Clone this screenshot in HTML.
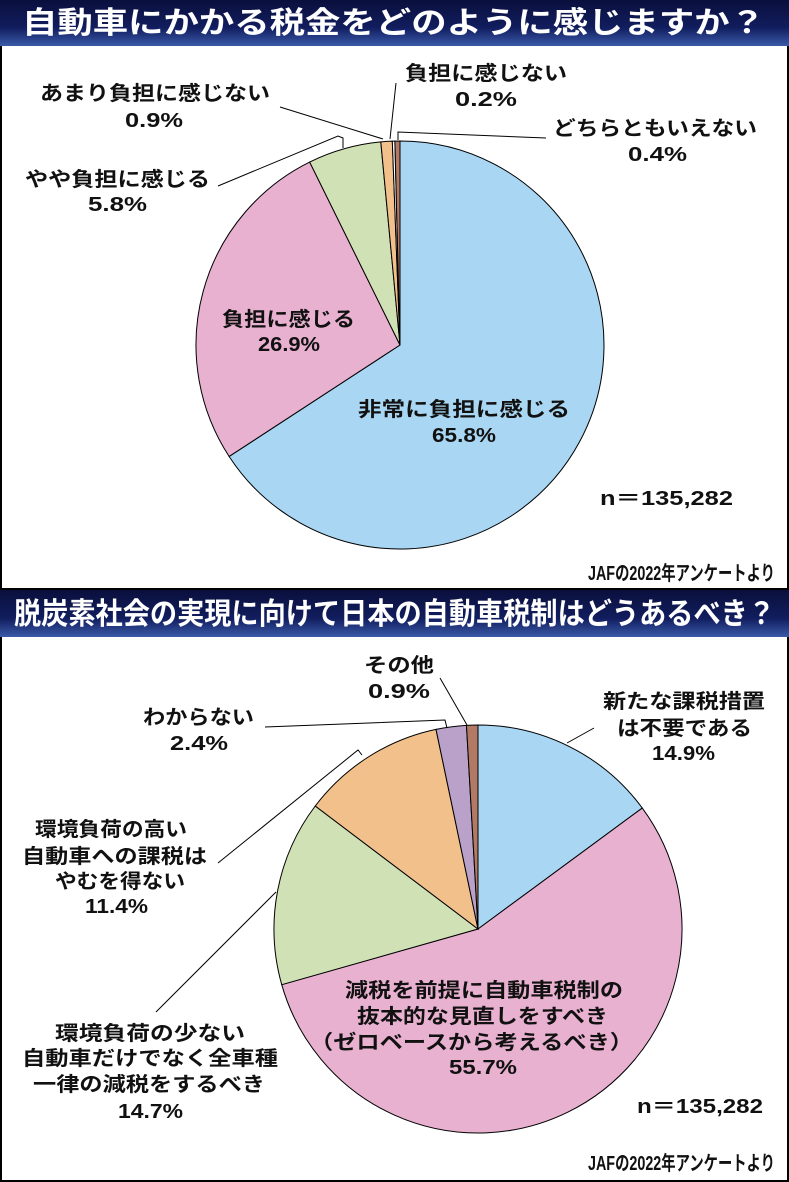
<!DOCTYPE html>
<html><head><meta charset="utf-8"><style>
html,body{margin:0;padding:0;background:#fff}
svg{display:block}
text{font-family:"Liberation Sans","Noto Sans CJK JP",sans-serif;font-weight:bold;fill:#111}
.h{fill:#fff;font-size:30px}
.t{font-size:20px}
</style></head><body>
<svg id="s" width="789" height="1182" viewBox="0 0 789 1182" xmlns="http://www.w3.org/2000/svg">
<defs>
<linearGradient id="g" x1="0" y1="0" x2="0" y2="1">
<stop offset="0" stop-color="#0a0f3c"/><stop offset="0.6" stop-color="#111d5e"/><stop offset="1" stop-color="#3a5aa8"/>
</linearGradient>
</defs>
<rect x="1" y="1" width="787" height="1180" fill="#fff" stroke="#000" stroke-width="2"/>
<rect x="0" y="0" width="789" height="46" fill="url(#g)"/>
<line x1="0" y1="589" x2="789" y2="589" stroke="#000" stroke-width="2"/>
<rect x="0" y="590" width="789" height="47" fill="url(#g)"/>
<text class="h" x="22" y="33" textLength="743" lengthAdjust="spacingAndGlyphs">自動車にかかる税金をどのように感じますか？</text>
<text class="h" x="14" y="624" textLength="761" lengthAdjust="spacingAndGlyphs">脱炭素社会の実現に向けて日本の自動車税制はどうあるべき？</text>
<g id="p1"></g><g id="p2"></g>
<g stroke="#000" stroke-width="1" fill="none">
<polyline points="280,107 383,139"/>
<polyline points="396,83 390,139"/>
<polyline points="546,138 398,132 398,140"/>
<polyline points="218,186 338,136 343,138 343,148"/>
<polyline points="265,727 445,720 447,728"/>
<polyline points="218,863 358,750 362,755"/>
<polyline points="156,1012 276,892"/>
<polyline points="567,743 594,728"/>
<polyline points="440,678 467,725"/>
</g>
<g class="t">
<text x="40" y="100" textLength="230" lengthAdjust="spacingAndGlyphs">あまり負担に感じない</text>
<text x="125" y="127" textLength="58" lengthAdjust="spacingAndGlyphs">0.9%</text>
<text x="405" y="80" textLength="162" lengthAdjust="spacingAndGlyphs">負担に感じない</text>
<text x="455" y="106" textLength="62" lengthAdjust="spacingAndGlyphs">0.2%</text>
<text x="553" y="135" textLength="204" lengthAdjust="spacingAndGlyphs">どちらともいえない</text>
<text x="628" y="161" textLength="59" lengthAdjust="spacingAndGlyphs">0.4%</text>
<text x="25" y="186" textLength="185" lengthAdjust="spacingAndGlyphs">やや負担に感じる</text>
<text x="88" y="211" textLength="59" lengthAdjust="spacingAndGlyphs">5.8%</text>
<text x="222" y="326" textLength="133" lengthAdjust="spacingAndGlyphs">負担に感じる</text>
<text x="258" y="351" textLength="62" lengthAdjust="spacingAndGlyphs">26.9%</text>
<text x="358" y="416" textLength="212" lengthAdjust="spacingAndGlyphs">非常に負担に感じる</text>
<text x="432" y="442" textLength="64" lengthAdjust="spacingAndGlyphs">65.8%</text>
<text x="600" y="505" textLength="133" lengthAdjust="spacingAndGlyphs">n＝135,282</text>
<text x="588" y="580" textLength="187" lengthAdjust="spacingAndGlyphs">JAFの2022年アンケートより</text>
<text x="364" y="672" textLength="70" lengthAdjust="spacingAndGlyphs">その他</text>
<text x="368" y="698" textLength="62" lengthAdjust="spacingAndGlyphs">0.9%</text>
<text x="143" y="724" textLength="111" lengthAdjust="spacingAndGlyphs">わからない</text>
<text x="170" y="750" textLength="58" lengthAdjust="spacingAndGlyphs">2.4%</text>
<text x="603" y="708" textLength="162" lengthAdjust="spacingAndGlyphs">新たな課税措置</text>
<text x="617" y="735" textLength="135" lengthAdjust="spacingAndGlyphs">は不要である</text>
<text x="652" y="760" textLength="63" lengthAdjust="spacingAndGlyphs">14.9%</text>
<text x="35" y="836" textLength="152" lengthAdjust="spacingAndGlyphs">環境負荷の高い</text>
<text x="22" y="863" textLength="185" lengthAdjust="spacingAndGlyphs">自動車への課税は</text>
<text x="55" y="888" textLength="130" lengthAdjust="spacingAndGlyphs">やむを得ない</text>
<text x="85" y="913" textLength="63" lengthAdjust="spacingAndGlyphs">11.4%</text>
<text x="345" y="997" textLength="278" lengthAdjust="spacingAndGlyphs">減税を前提に自動車税制の</text>
<text x="357" y="1023" textLength="251" lengthAdjust="spacingAndGlyphs">抜本的な見直しをすべき</text>
<text x="310" y="1049" textLength="323" lengthAdjust="spacingAndGlyphs">（ゼロベースから考えるべき）</text>
<text x="449" y="1074" textLength="68" lengthAdjust="spacingAndGlyphs">55.7%</text>
<text x="55" y="1040" textLength="190" lengthAdjust="spacingAndGlyphs">環境負荷の少ない</text>
<text x="22" y="1065" textLength="256" lengthAdjust="spacingAndGlyphs">自動車だけでなく全車種</text>
<text x="33" y="1091" textLength="232" lengthAdjust="spacingAndGlyphs">一律の減税をするべき</text>
<text x="118" y="1118" textLength="65" lengthAdjust="spacingAndGlyphs">14.7%</text>
<text x="637" y="1113" textLength="126" lengthAdjust="spacingAndGlyphs">n＝135,282</text>
<text x="588" y="1170" textLength="187" lengthAdjust="spacingAndGlyphs">JAFの2022年アンケートより</text>
</g>
</svg>
<script>
function pie(id,cx,cy,r,data){
  var g=document.getElementById(id),a=0,h='';
  data.forEach(function(d){
    var a0=a,a1=a+d[0]/100*2*Math.PI;a=a1;
    var x0=cx+r*Math.sin(a0),y0=cy-r*Math.cos(a0),x1=cx+r*Math.sin(a1),y1=cy-r*Math.cos(a1);
    var l=(a1-a0)>Math.PI?1:0;
    h+='<path d="M'+cx+','+cy+' L'+x0+','+y0+' A'+r+','+r+' 0 '+l+' 1 '+x1+','+y1+' Z" fill="'+d[1]+'" stroke="#000" stroke-width="1"/>';
  });
  g.innerHTML=h;
}
pie('p1',400,345,204,[[65.8,'#a9d6f2'],[26.9,'#e8b1d0'],[5.8,'#d0e1b6'],[0.9,'#f2c08b'],[0.2,'#ffffff'],[0.4,'#b27a64']]);
pie('p2',478,929,204,[[14.9,'#a9d6f2'],[55.7,'#e8b1d0'],[14.7,'#d0e1b6'],[11.4,'#f2c08b'],[2.4,'#b9a1c9'],[0.9,'#b27a64']]);
</script>
</body></html>
